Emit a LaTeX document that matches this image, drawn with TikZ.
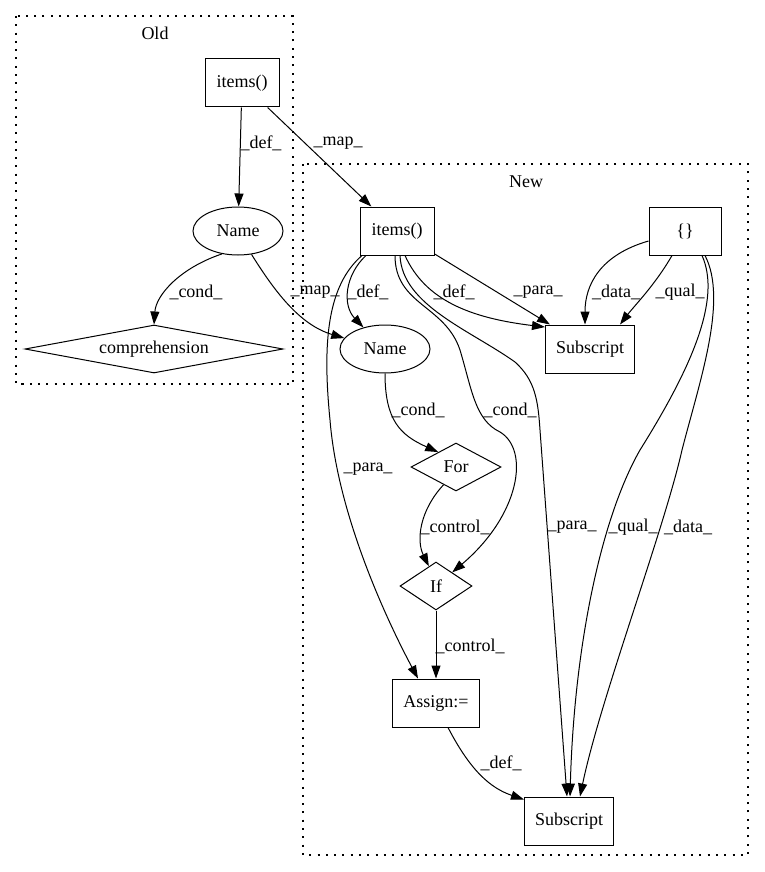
\documentclass[tikz,border=0pt]{standalone}
\usepackage{fontspec}
\setmainfont{Liberation Serif}
\usetikzlibrary{shapes.geometric,arrows.meta}

\begin{document}
\begin{tikzpicture}[x=1pt,y=-1pt,
    font=\fontsize{18}{21}\selectfont,
    box/.style={draw,line width=1pt,rectangle,minimum height=48pt,inner sep=0pt},
    oval/.style={draw,line width=1pt,ellipse,minimum width=90pt,minimum height=48pt,inner sep=0pt},
    cond/.style={draw,line width=1pt,diamond,minimum height=48pt,inner sep=0pt},
    edge/.style={-{Triangle[length=13pt,width=9pt]},line width=1pt},
    lbl/.style={inner sep=0pt},
    cluster/.style={line width=1.3pt,dash pattern=on 2pt off 6.3pt}]
    \useasboundingbox (0,0) rectangle (764,872);
    % clusters
    \draw[cluster] (16,16) rectangle (293,384);
    \node (oldlbl) at (155,33) {Old};
    \draw[cluster] (303,164) rectangle (748,855);
    \node (newlbl) at (526,182) {New};
    % old nodes
    \node[box,minimum width=74pt] (oitems) at (242,83) {items()};
    \node[oval] (oname) at (238,231) {Name};
    \node[cond,minimum width=258pt,aspect=5.4] (ocomp) at (154,349) {comprehension};
    % new nodes
    \node[box,minimum width=74pt] (nitems) at (397,231) {items()};
    \node[box,minimum width=72pt] (nbrace) at (685,231) {\{\}};
    \node[oval] (nname) at (385,349) {Name};
    \node[box,minimum width=89pt] (nsubtop) at (590,349) {Subscript};
    \node[cond,minimum width=90pt,aspect=1.9] (nfor) at (456,467) {For};
    \node[cond,minimum width=72pt,aspect=1.5] (nif) at (436,586) {If};
    \node[box,minimum width=87pt] (nassign) at (436,703) {Assign:=};
    \node[box,minimum width=89pt] (nsubbot) at (569,821) {Subscript};
    % old edges
    \draw[edge] (oitems) -- (oname) node[lbl] at (261,143) {\_def\_};
    \draw[edge] (oitems) -- (nitems) node[lbl] at (338,143) {\_map\_};
    \draw[edge] (oname.235) .. controls (180,268) and (156,295) .. (ocomp.north) node[lbl] at (196,292) {\_cond\_};
    \draw[edge] (oname.300) .. controls (275,292) and (300,325) .. (nname.165) node[lbl] at (315,292) {\_map\_};
    % new edges
    \draw[edge] ([xshift=-31pt]nitems.south) .. controls (345,275) and (342,305) .. (nname.135) node[lbl] at (368,292) {\_def\_};
    \draw[edge] ([xshift=8pt]nitems.south) .. controls (425,300) and (470,318) .. (nsubtop.154) node[lbl] at (454,292) {\_def\_};
    \draw[edge] (nitems) -- (nsubtop) node[lbl] at (538,292) {\_para\_};
    \draw[edge] ([yshift=-10pt]nbrace.west) .. controls (600,255) and (585,285) .. ([xshift=-5pt]nsubtop.north) node[lbl] at (616,292) {\_data\_};
    \draw[edge] ([xshift=-13pt]nbrace.south) .. controls (655,285) and (635,305) .. ([xshift=30pt]nsubtop.north) node[lbl] at (680,292) {\_qual\_};
    \draw[edge] (nname) .. controls (385,420) and (400,435) .. (nfor.140) node[lbl] at (418,410) {\_cond\_};
    \draw[edge] ([xshift=-2pt]nitems.south) .. controls (395,305) and (445,305) .. (460,350) .. controls (472,390) and (475,420) .. (500,432) .. controls (530,450) and (520,515) .. (nif.40) node[lbl] at (510,410) {\_cond\_};
    \draw[edge] (nfor.235) .. controls (420,510) and (416,540) .. (nif.110) node[lbl] at (455,527) {\_control\_};
    \draw[edge] (nif) -- (nassign) node[lbl] at (470,646) {\_control\_};
    \draw[edge] ([xshift=-35pt]nitems.south) .. controls (328,285) and (322,340) .. (330,420) .. controls (338,520) and (392,630) .. ([xshift=-18pt]nassign.north) node[lbl] at (368,469) {\_para\_};
    \draw[edge] ([xshift=3pt]nitems.south) .. controls (402,305) and (470,330) .. (515,362) .. controls (535,380) and (538,400) .. (540,430) -- ([xshift=-2pt]nsubbot.north) node[lbl] at (572,527) {\_para\_};
    \draw[edge] ([xshift=17pt]nbrace.south) .. controls (722,300) and (690,370) .. (640,450) .. controls (600,520) and (574,650) .. ([xshift=1pt]nsubbot.north) node[lbl] at (633,527) {\_qual\_};
    \draw[edge] ([xshift=20pt]nbrace.south) .. controls (728,300) and (700,380) .. (682,450) .. controls (664,530) and (600,700) .. ([xshift=11pt]nsubbot.north) node[lbl] at (688,527) {\_data\_};
    \draw[edge] ([xshift=12pt]nassign.south) .. controls (470,770) and (490,788) .. ([yshift=-3pt]nsubbot.north west) node[lbl] at (501,763) {\_def\_};
\end{tikzpicture}
\end{document}
